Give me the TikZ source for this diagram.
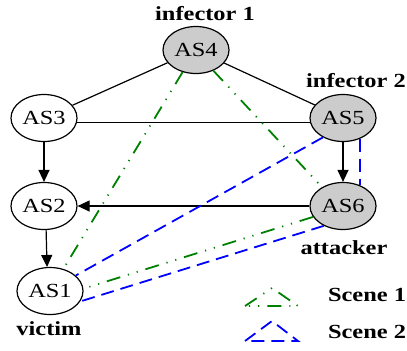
\documentclass[tikz,border=0pt]{standalone}
\usepackage{fontspec}
\setmainfont{Liberation Serif}[FakeStretch=1.22]
\usetikzlibrary{shapes.geometric,arrows.meta}
\definecolor{scgreen}{RGB}{0,128,0}
\definecolor{scblue}{RGB}{0,0,255}

\begin{document}
\begin{tikzpicture}[font=\fontsize{10}{12}\selectfont, x=0.5pt, y=-0.5pt,
  as/.style={ellipse, draw, line width=0.6pt, minimum width=33pt,
    minimum height=23.5pt, inner sep=0pt},
  hit/.style={as, fill=black!20},
  tag/.style={font=\fontsize{10}{12}\selectfont\bfseries, inner sep=0pt},
  link/.style={line width=0.6pt},
  flow/.style={link, -{Triangle[length=6pt,width=5.5pt]}},
  scene1/.style={scgreen, line width=0.9pt,
    dash pattern=on 7pt off 4pt on 0.6pt off 4pt on 0.6pt off 4pt},
  scene2/.style={scblue, line width=0.9pt, dash pattern=on 6.5pt off 3.5pt}]

  \useasboundingbox (0,0) rectangle (407,350);

  \foreach \n/\x/\y in {3/44/118, 2/44/206, 1/50/291}
    \node[as] (as\n) at (\x,\y) {AS\n};

  \foreach \n/\x/\y in {4/196/50, 5/343/118, 6/343/206}
    \node[hit] (as\n) at (\x,\y) {AS\n};

  \node[tag] (t4) at (205,14) {infector 1};
  \node[tag] (t5) at (356,81) {infector 2};
  \node[tag] (t6) at (344,248) {attacker};
  \node[tag] (t1) at (49,329) {victim};

  \foreach \a/\b in {as4/as3, as4/as5}
    \draw[link] (\a) -- (\b);
  \draw[link] (as3.352) -- (as5.188);

  \foreach \a/\b in {as3/as2, as5/as6, as6/as2}
    \draw[flow] (\a) -- (\b);
  \draw[flow] (as2.275) -- (as1.97);

  \begin{scope}[scene1]
    \draw (as4) -- (as1);
    \draw (as4.310) -- (as6.138);
    \draw (as6.200) -- (as1.4);
  \end{scope}

  \begin{scope}[scene2]
    \draw (as5.224) -- (as1.31);
    \draw (as5.310) -- (as6.50);
    \draw (as6.226) -- (as1.341);
  \end{scope}

  \node[tag] (s1) at (367,295) {Scene 1};
  \node[tag] (s2) at (367,332) {Scene 2};
  \draw[scene1] (245,306) -- (272,288) -- (298,306) -- cycle;
  \draw[scene2] (245,341) -- (272,321) -- (298,341) -- cycle;
\end{tikzpicture}
\end{document}
